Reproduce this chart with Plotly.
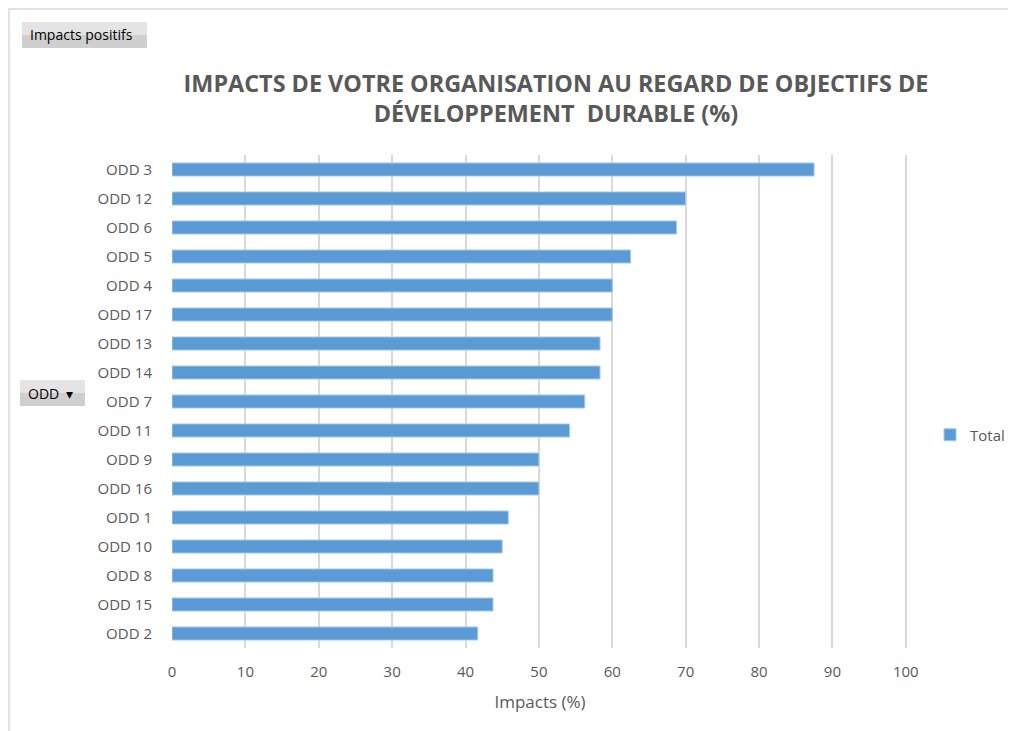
import plotly.graph_objects as go

categories = ["ODD 3", "ODD 12", "ODD 6", "ODD 5", "ODD 4", "ODD 17", "ODD 13", "ODD 14",
              "ODD 7", "ODD 11", "ODD 9", "ODD 16", "ODD 1", "ODD 10", "ODD 8", "ODD 15", "ODD 2"]
values = [87.5, 70.0, 68.75, 62.5, 60.0, 60.0, 58.33, 58.33,
          56.25, 54.17, 50.0, 50.0, 45.83, 45.0, 43.75, 43.75, 41.67]
x_ticks = [0, 10, 20, 30, 40, 50, 60, 70, 80, 90, 100]

W, H = 1016, 731
OFF = 8  # page body margin; reference pixel coords are shifted by this
L, T = 172 - OFF, 155 - OFF
PW, PH = 736, 493
R, B = W - L - PW, H - T - PH

def px(x):
    return (x - OFF - L) / PW

def py(y):
    return (T + PH - (y - OFF)) / PH

grey = "#595959"
font = "Open Sans"

fig = go.Figure()
fig.add_trace(go.Bar(
    x=values, y=categories, orientation="h", name="Total",
    marker=dict(color="#5b9bd5", line=dict(color="#a9c9e9", width=1)),
    showlegend=True,
))

shapes = [
    dict(type="rect", xref="paper", yref="paper", x0=px(9), x1=px(1040), y0=py(9), y1=py(760),
         line=dict(color="#d9d9d9", width=1.5), fillcolor="rgba(0,0,0,0)", layer="below"),
    dict(type="rect", xref="paper", yref="paper", x0=px(22), x1=px(147), y0=py(22), y1=py(48),
         line=dict(width=0), fillcolor="#cfcfcf", layer="below"),
    dict(type="rect", xref="paper", yref="paper", x0=px(22), x1=px(147), y0=py(22), y1=py(35),
         line=dict(width=0), fillcolor="#e4e4e4", layer="below"),
    dict(type="rect", xref="paper", yref="paper", x0=px(20), x1=px(85), y0=py(380), y1=py(406),
         line=dict(width=0), fillcolor="#cfcfcf", layer="below"),
    dict(type="rect", xref="paper", yref="paper", x0=px(20), x1=px(85), y0=py(380), y1=py(393),
         line=dict(width=0), fillcolor="#e4e4e4", layer="below"),
]

annotations = [
    dict(text="Impacts positifs", xref="paper", yref="paper", x=px(81), y=py(35),
         xanchor="center", yanchor="middle", showarrow=False,
         font=dict(family=font, size=14, color="#000000")),
    dict(text="ODD  ▾", xref="paper", yref="paper", x=px(50), y=py(393),
         xanchor="center", yanchor="middle", showarrow=False,
         font=dict(family=font, size=14, color="#000000")),
]

fig.update_layout(
    width=W, height=H,
    margin=dict(l=L, r=R, t=T, b=B, autoexpand=False),
    paper_bgcolor="white", plot_bgcolor="white",
    title=dict(text="IMPACTS DE VOTRE ORGANISATION AU REGARD DE OBJECTIFS DE<br>DÉVELOPPEMENT  DURABLE (%)",
               xref="paper", x=px(556), xanchor="center",
               yref="container", y=1 - (92 - OFF) / H, yanchor="middle",
               font=dict(family=font, size=23.4, color=grey, weight="bold")),
    bargap=0.55,
    xaxis=dict(range=[0, 100.3], tickvals=x_ticks, showgrid=True, gridcolor="#d9d9d9", gridwidth=2,
               zeroline=False, showline=False, ticks="outside", ticklen=10, tickcolor="rgba(0,0,0,0)",
               tickfont=dict(family=font, size=15, color=grey),
               title=dict(text="Impacts (%)", font=dict(family=font, size=17, color=grey), standoff=16)),
    yaxis=dict(autorange="reversed", showgrid=False, zeroline=False, showline=False,
               ticks="outside", ticklen=16, tickcolor="rgba(0,0,0,0)",
               tickfont=dict(family=font, size=15, color=grey)),
    legend=dict(x=px(930), y=py(435), xanchor="left", yanchor="middle",
                font=dict(family=font, size=15, color=grey), itemwidth=30, bgcolor="rgba(0,0,0,0)"),
    shapes=shapes, annotations=annotations,
)

fig.write_html("out.html")
